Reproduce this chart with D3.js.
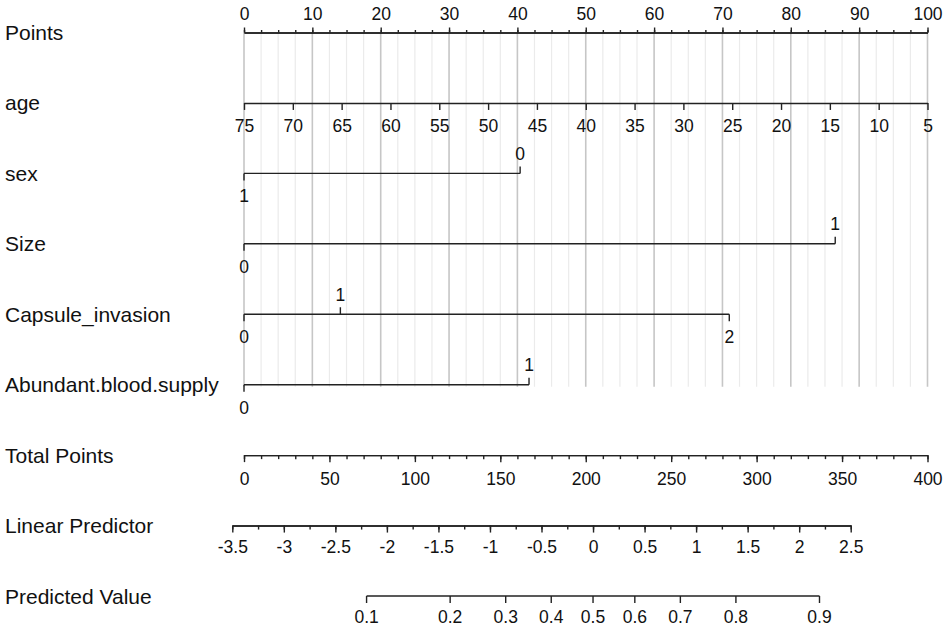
<!DOCTYPE html>
<html>
<head>
<meta charset="utf-8">
<script src="https://cdn.jsdelivr.net/npm/d3@7"></script>
<style>
body { margin: 0; background: #fff; }
text { font-family: "Liberation Sans", Arial, sans-serif; fill: #111; }
.axis path, .axis line { stroke: #222; stroke-width: 1.4; }
.axis text { font-size: 17.5px; }
.rowlab { font-size: 21px; }
</style>
</head>
<body>
<svg id="chart" width="945" height="627"></svg>
<script>
// rows of the nomogram, top to bottom
var rowNames = ["Points", "age", "sex", "Size", "Capsule_invasion", "Abundant.blood.supply",
                "Total Points", "Linear Predictor", "Predicted Value"];

// tick labels
var pointsTicks = [0, 10, 20, 30, 40, 50, 60, 70, 80, 90, 100];
var ageTicks = [75, 70, 65, 60, 55, 50, 45, 40, 35, 30, 25, 20, 15, 10, 5];
var totalTicks = [0, 50, 100, 150, 200, 250, 300, 350, 400];
var lpTicks = [-3.5, -3, -2.5, -2, -1.5, -1, -0.5, 0, 0.5, 1, 1.5, 2, 2.5];
var pvTicks = [0.1, 0.2, 0.3, 0.4, 0.5, 0.6, 0.7, 0.8, 0.9];

// categorical predictors: levels and their points
var catVars = ["sex", "Size", "Capsule_invasion", "Abundant.blood.supply"];
var sexLevels = ["1", "0"];          var sexPoints = [0, 40.4];
var sizeLevels = ["0", "1"];         var sizePoints = [0, 86.5];
var capsuleLevels = ["0", "1", "2"]; var capsulePoints = [0, 14.1, 71.0];
var bloodLevels = ["0", "1"];        var bloodPoints = [0, 41.7];
var catLevels = [sexLevels, sizeLevels, capsuleLevels, bloodLevels];
var catPoints = [sexPoints, sizePoints, capsulePoints, bloodPoints];

var svg = d3.select("#chart");

var y = d3.scalePoint().domain(rowNames).range([32.5, 596]);
var xPts = d3.scaleLinear().domain([0, 100]).range([244, 927.5]);
var xAge = d3.scaleLinear().domain([75, 5]).range([244, 927.5]);
var xTot = d3.scaleLinear().domain([0, 400]).range([244, 927.5]);
var xLp = d3.scaleLinear().domain([-3.5, 2.5]).range([232.3, 850.7]);
var logit = function(p) { return Math.log(p / (1 - p)); };

// vertical reference grid
var gridVals = d3.range(0, 100.01, 2.5);
svg.append("g").selectAll("line").data(gridVals).enter().append("line")
  .attr("x1", function(d) { return xPts(d); })
  .attr("x2", function(d) { return xPts(d); })
  .attr("y1", y("Points"))
  .attr("y2", y("Abundant.blood.supply") + 2)
  .attr("stroke", function(d) { return d % 10 === 0 ? "#c6c6c6" : "#ebebeb"; })
  .attr("stroke-width", function(d) { return d % 10 === 0 ? 1.6 : 1.2; });

// row labels
svg.append("g").selectAll("text").data(rowNames).enter().append("text")
  .attr("class", "rowlab")
  .attr("x", 5)
  .attr("y", function(d) { return y(d) + 7.5; })
  .text(function(d) { return d; });

function styleAxis(g) {
  g.attr("class", "axis");
  g.select(".domain").attr("fill", "none");
}

// Points axis (ticks up)
svg.append("g").attr("transform", "translate(0," + y("Points") + ")")
  .call(d3.axisTop(xPts).tickValues(d3.range(0, 100.01, 2.5)).tickSize(2.5).tickSizeOuter(0).tickFormat(""))
  .call(styleAxis);
svg.append("g").attr("transform", "translate(0," + y("Points") + ")")
  .call(d3.axisTop(xPts).tickValues(pointsTicks).tickSize(5).tickSizeOuter(0).tickPadding(8).tickFormat(d3.format("d")))
  .call(styleAxis);

// age axis (ticks down)
svg.append("g").attr("transform", "translate(0," + y("age") + ")")
  .call(d3.axisBottom(xAge).tickValues(ageTicks).tickSize(7).tickSizeOuter(0).tickPadding(9.5).tickFormat(d3.format("d")))
  .call(styleAxis);

// categorical rows
catVars.forEach(function(v, k) {
  var lev = catLevels[k], pts = catPoints[k];
  var order = d3.range(lev.length).sort(function(a, b) { return pts[a] - pts[b]; });
  var yy = y(v);
  var g = svg.append("g").attr("class", "axis");
  g.append("line")
    .attr("x1", xPts(d3.min(pts))).attr("x2", xPts(d3.max(pts)))
    .attr("y1", yy).attr("y2", yy);
  order.forEach(function(i, j) {
    var up = j % 2 === 1;
    var x = xPts(pts[i]);
    g.append("line").attr("x1", x).attr("x2", x)
      .attr("y1", yy).attr("y2", up ? yy - 7 : yy + 7);
    g.append("text").attr("x", x).attr("y", up ? yy - 13.5 : yy + 29)
      .attr("text-anchor", "middle")
      .text(lev[i]);
  });
});

// Total Points axis
svg.append("g").attr("transform", "translate(0," + y("Total Points") + ")")
  .call(d3.axisBottom(xTot).tickValues(d3.range(0, 400.01, 10)).tickSize(4).tickSizeOuter(0).tickFormat(""))
  .call(styleAxis);
svg.append("g").attr("transform", "translate(0," + y("Total Points") + ")")
  .call(d3.axisBottom(xTot).tickValues(totalTicks).tickSize(7).tickSizeOuter(0).tickPadding(10.5).tickFormat(d3.format("d")))
  .call(styleAxis);

// Linear Predictor axis
svg.append("g").attr("transform", "translate(0," + y("Linear Predictor") + ")")
  .call(d3.axisBottom(xLp).tickValues(d3.range(-3.5, 2.51, 0.25)).tickSize(4).tickSizeOuter(0).tickFormat(""))
  .call(styleAxis);
svg.append("g").attr("transform", "translate(0," + y("Linear Predictor") + ")")
  .call(d3.axisBottom(xLp).tickValues(lpTicks).tickSize(7).tickSizeOuter(0).tickPadding(8).tickFormat(function(d) { return String(d); }))
  .call(styleAxis);

// Predicted Value axis (logit of probability on the linear predictor scale)
var xPv = function(p) { return xLp(logit(p)); };
var pvG = svg.append("g").attr("class", "axis").attr("transform", "translate(0," + y("Predicted Value") + ")");
pvG.append("line").attr("x1", xPv(pvTicks[0])).attr("x2", xPv(pvTicks[pvTicks.length - 1]))
  .attr("y1", 0).attr("y2", 0);
pvG.selectAll(".tk").data(pvTicks).enter().append("line").attr("class", "tk")
  .attr("x1", xPv).attr("x2", xPv).attr("y1", 0).attr("y2", 7);
pvG.selectAll("text").data(pvTicks).enter().append("text")
  .attr("x", xPv).attr("y", 26.5).attr("text-anchor", "middle")
  .text(function(d) { return String(d); });
</script>
</body>
</html>
